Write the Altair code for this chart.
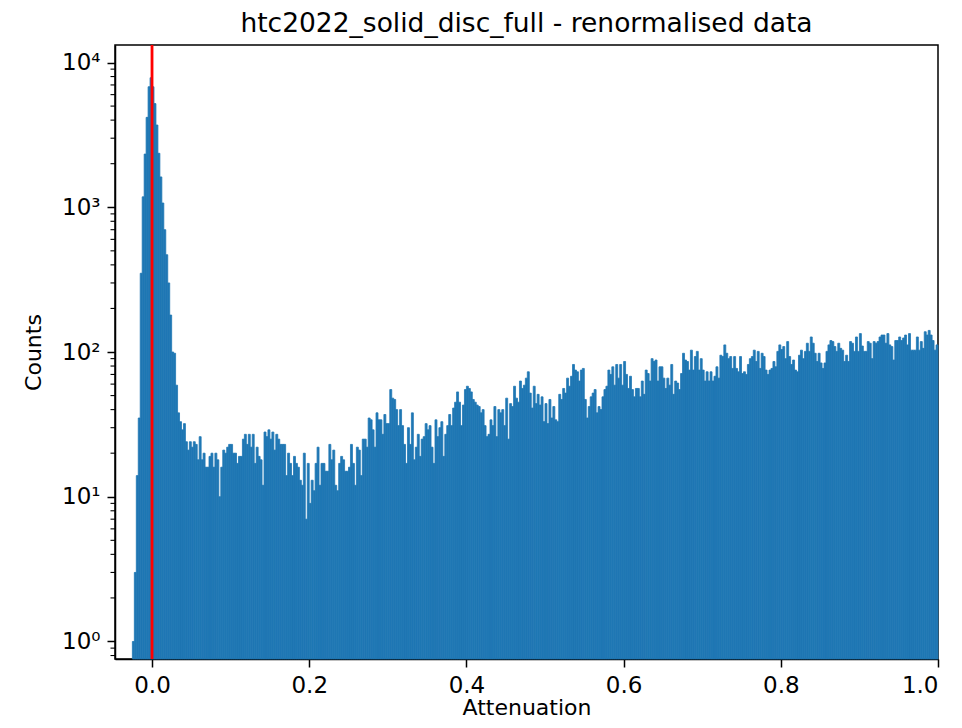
import altair as alt
import pandas as pd

TITLE = "htc2022_solid_disc_full - renormalised data"
X_TITLE = "Attenuation"
Y_TITLE = "Counts"

BIN_START = -0.025
BIN_WIDTH = 0.0025

# histogram counts, bin by bin (left to right)
counts_left = [1, 3, 14, 35, 350, 1180, 2330, 4180, 6800, 7850]
counts_peak = [6800, 5200, 3700, 2360, 1620, 1070, 700, 470, 300]
counts_a = [180, 100, 98, 59, 38, 33, 29, 32, 24, 21, 24, 22, 24, 23, 18, 26, 18, 20, 16, 16,
            19, 20, 16, 20, 18, 10, 16, 21, 20, 22, 23, 23, 20, 20, 17, 19, 19, 25, 27, 23,
            27, 22, 27, 17, 22, 19, 18, 12, 28, 26, 29, 25, 28, 21, 27, 25]
counts_b = [23, 23, 23, 14, 20, 17, 14, 19, 17, 16, 13, 12, 20, 7, 17, 9, 13, 11, 17, 22,
            12, 17, 17, 15, 15, 23, 18, 21, 12, 11, 17, 19, 18, 15, 15, 16, 23, 17, 12, 22,
            21, 14, 25, 25, 22, 35, 34, 29, 22, 38, 34, 34, 27, 37, 32, 32, 55, 48, 47, 40,
            31, 40, 31, 23, 17, 30, 23, 38, 18, 22, 27, 19, 25, 26, 32, 29, 31, 22, 17, 34,
            26, 30, 33, 19, 27, 31, 37, 31, 41, 45, 53, 45, 31, 43, 55, 58, 56, 53, 47, 45,
            43, 42, 38, 40, 31, 26, 27, 34, 31, 42, 26, 40, 38]
counts_c = [40, 31, 48, 25, 44, 42, 58, 48, 45, 63, 56, 59, 66, 73, 52, 41, 58, 44, 51, 43,
            49, 33, 44, 32, 47, 35, 42, 34, 33, 51, 47, 56, 52, 66, 58, 68, 82, 75, 73, 63,
            75, 77, 47, 35, 42, 49, 52, 55, 38, 42, 40, 49, 55, 58, 75, 70, 79, 59, 82, 66,
            82, 59, 86, 70, 56, 68, 55, 49, 56, 56, 49, 63, 51, 75, 71, 63, 90, 86, 88, 63,
            79, 79, 66, 56, 66, 59, 82, 51, 63, 61, 55, 71, 98, 88, 86, 75, 103, 75, 93, 101,
            75, 90]
counts_d = [75, 63, 73, 63, 73, 63, 68, 79, 66, 95, 93, 112, 98, 90, 93, 77, 93, 77, 73, 93,
            71, 73, 70, 82, 90, 93, 103, 86, 101, 77, 98, 93, 75, 70, 75, 77, 86, 79, 101, 112,
            104, 109, 90, 118, 93, 82, 88, 75, 73, 95, 103, 90, 101, 115, 101, 127, 115, 98, 86, 98,
            84, 77, 84, 101, 112, 120, 118, 109, 101, 115, 106, 103, 86, 95, 86, 118, 115, 101, 127, 101,
            134, 110, 101, 101, 118, 115, 90, 118, 115, 118, 127, 131, 131, 115, 134, 112, 109, 88, 120, 120,
            127, 120, 125, 131, 112, 134, 103, 103, 103, 127, 103, 118, 106, 138, 131, 141, 131, 120, 103, 112]

counts = counts_left + counts_peak + counts_a + counts_b + counts_c + counts_d
x0 = [BIN_START + i * BIN_WIDTH for i in range(len(counts))]
hist = pd.DataFrame({"x0": x0, "x1": [v + BIN_WIDTH for v in x0], "count": counts})

X_DOMAIN = [-0.0471, 1.0]
Y_DOMAIN = [0.757, 13213]
x_ticks = [0.0, 0.2, 0.4, 0.6, 0.8, 1.0]
y_major = [1, 10, 100, 1000, 10000]
y_minor = [0.8, 0.9, 2, 3, 4, 5, 6, 7, 8, 9, 20, 30, 40, 50, 60, 70, 80, 90,
           200, 300, 400, 500, 600, 700, 800, 900, 2000, 3000, 4000, 5000, 6000, 7000, 8000, 9000]
marker_x = [0.0]

FONT = "DejaVu Sans"
BLUE = "#1f77b4"

xscale = alt.Scale(domain=X_DOMAIN, nice=False, zero=False)
yscale = alt.Scale(type="log", domain=Y_DOMAIN, nice=False)

bars = alt.Chart(hist).mark_rect(color=BLUE, stroke=BLUE, strokeWidth=0.8).encode(
    x=alt.X("x0:Q", scale=xscale,
            axis=alt.Axis(values=x_ticks, format=".1f", title=X_TITLE)),
    x2="x1:Q",
    y=alt.Y("count:Q", scale=yscale,
            axis=alt.Axis(values=y_major, title=Y_TITLE,
                          labelExpr="'10' + ['⁰','¹','²','³','⁴'][round(log(datum.value)/LN10)]")),
    y2=alt.value(614),
)

minor = alt.Chart(pd.DataFrame({"count": y_minor})).mark_rule(color="black", strokeWidth=1.1).encode(
    y=alt.Y("count:Q", scale=yscale),
    x=alt.value(-4.5),
    x2=alt.value(0),
)

redline = alt.Chart(pd.DataFrame({"x0": marker_x})).mark_rule(color="#ff0000", strokeWidth=2.8).encode(
    x=alt.X("x0:Q", scale=xscale),
)

chart = alt.layer(bars, minor, redline).properties(
    width=823,
    height=614,
    title=alt.TitleParams(TITLE, fontSize=26.5, font=FONT, fontWeight="normal", color="black", offset=6),
    autosize=alt.AutoSizeParams(type="none"),
    padding={"left": 107, "top": 37, "right": 8, "bottom": 61},
).configure_view(
    stroke="black", strokeWidth=1.5
).configure_axis(
    labelFont=FONT, titleFont=FONT, labelFontSize=23, titleFontSize=22,
    labelColor="black", titleColor="black", titleFontWeight="normal",
    tickColor="black", tickSize=8, tickWidth=1.5,
    domainColor="black", domainWidth=1.5, grid=False, labelPadding=7, zindex=1,
).configure_axisX(titlePadding=0).configure_axisY(titlePadding=16)

chart.save("out.html", embed_options={"renderer": "svg", "actions": False})
